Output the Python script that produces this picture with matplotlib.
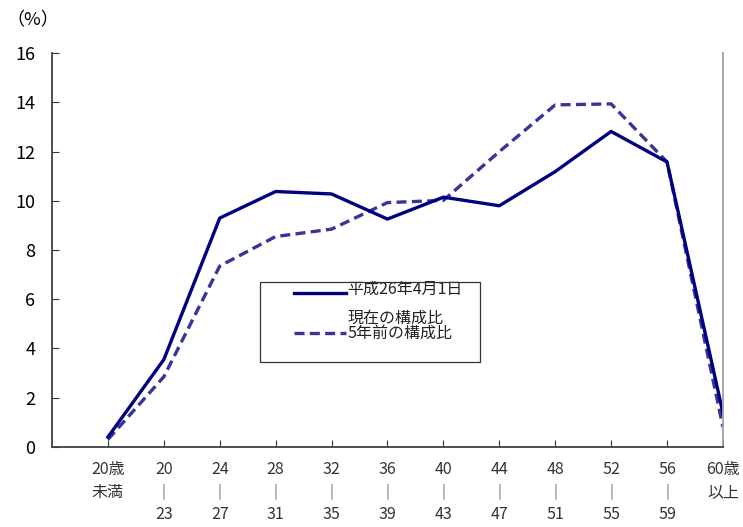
import matplotlib.pyplot as plt
from matplotlib.patches import Rectangle

plt.rcParams['font.family'] = ['Noto Sans CJK JP', 'DejaVu Sans']

# age groups (x labels)
age_labels = ['20歳\n未満', '20\n｜\n23', '24\n｜\n27', '28\n｜\n31', '32\n｜\n35',
              '36\n｜\n39', '40\n｜\n43', '44\n｜\n47', '48\n｜\n51', '52\n｜\n55',
              '56\n｜\n59', '60歳\n以上']
# composition ratio (%) as of 1 April, Heisei 26
current = [0.4, 3.55, 9.3, 10.38, 10.28, 9.26, 10.15, 9.8, 11.19, 12.82, 11.58, 1.38]
# composition ratio (%) five years earlier
five_years_ago = [0.3, 2.85, 7.35, 8.55, 8.85, 9.93, 10.02, 12.0, 13.9, 13.94, 11.58, 0.81]

label_current = '平成26年4月1日\n現在の構成比'
label_past = '5年前の構成比'

fig = plt.figure(figsize=(7.43, 5.27), dpi=100)
ax = fig.add_axes([0.070, 0.152, 0.903, 0.747])

x = list(range(1, len(age_labels) + 1))
ax.plot(x, five_years_ago, color='#35359a', lw=2.4, dashes=(3.0, 1.6))
ax.plot(x, current, color='#000080', lw=2.4)

ax.set_xlim(0, 12)
ax.set_ylim(0, 16)
ax.set_yticks(range(0, 17, 2))
ax.set_xticks(x)
ax.set_xticklabels(age_labels, fontsize=11.5, linespacing=1.45, va='top')
ax.tick_params(axis='y', direction='in', length=5, labelsize=13, pad=12, colors='#333333')
ax.tick_params(axis='x', direction='in', length=5, pad=10, colors='#333333')
for lab in ax.get_yticklabels():
    lab.set_color('black')
for lab in ax.get_xticklabels():
    lab.set_color('#333333')

ax.spines['top'].set_visible(False)
ax.spines['left'].set_color('#404040')
ax.spines['bottom'].set_color('#404040')
ax.spines['left'].set_linewidth(1.3)
ax.spines['bottom'].set_linewidth(1.3)
ax.spines['right'].set_color('#a0a0a0')
ax.spines['right'].set_linewidth(1.3)

# legend box drawn by hand, text overlaps as in the original
ax.add_patch(Rectangle((0.31, 0.216), 0.328, 0.203, transform=ax.transAxes,
                       fill=False, edgecolor='#333333', lw=0.9, zorder=5))
ax.plot([0.36, 0.438], [0.391, 0.391], transform=ax.transAxes, color='#000080', lw=2.4)
ax.plot([0.36, 0.438], [0.289, 0.289], transform=ax.transAxes, color='#35359a', lw=2.4,
        dashes=(3.0, 1.6))
ax.text(0.44, 0.422, label_current, transform=ax.transAxes, fontsize=11.5,
        va='top', ha='left', linespacing=1.9, color='#222222')
ax.text(0.44, 0.289, label_past, transform=ax.transAxes, fontsize=11.5,
        va='center', ha='left', color='#222222')

fig.text(0.008, 0.962, '（%）', fontsize=13, va='center', ha='left')

fig.savefig('out.png', dpi=100)
